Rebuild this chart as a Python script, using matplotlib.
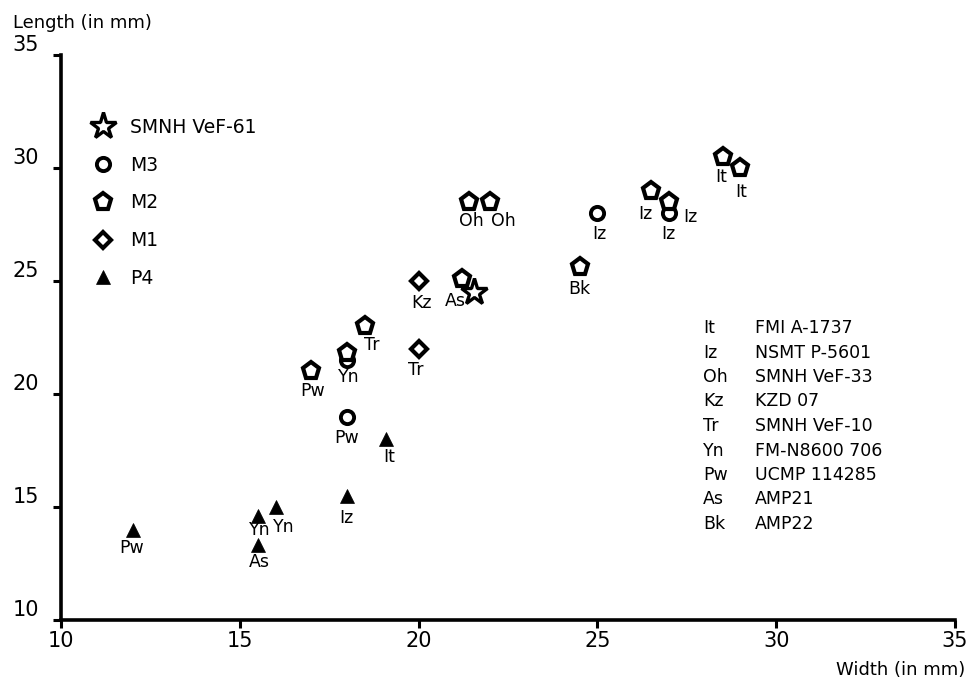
import matplotlib
matplotlib.use('Agg')
import matplotlib.pyplot as plt
from matplotlib.lines import Line2D

plt.rcParams['font.family'] = ['DejaVu Sans']

# M3 (circles)
m3_width = [18.0, 18.0, 25.0, 27.0]
m3_length = [19.0, 21.5, 28.0, 28.0]
m3_labels = ['Pw', '', 'Iz', 'Iz']

# M2 (pentagons)
m2_width = [17.0, 18.0, 18.5, 21.4, 22.0, 21.2, 24.5, 26.5, 27.0, 28.5, 29.0]
m2_length = [21.0, 21.8, 23.0, 28.5, 28.5, 25.1, 25.6, 29.0, 28.5, 30.5, 30.0]
m2_labels = ['Pw', 'Yn', 'Tr', 'Oh', 'Oh', 'As', 'Bk', 'Iz', 'Iz', 'It', 'It']

# M1 (diamonds)
m1_width = [20.0, 20.0]
m1_length = [25.0, 22.0]
m1_labels = ['Kz', 'Tr']

# P4 (triangles)
p4_width = [12.0, 15.5, 16.0, 15.5, 18.0, 19.1]
p4_length = [14.0, 14.6, 15.0, 13.3, 15.5, 18.0]
p4_labels = ['Pw', 'Yn', 'Yn', 'As', 'Iz', 'It']

# SMNH VeF-61 (star)
star_width = [21.55]
star_length = [24.5]

key_abbr = ['It', 'Iz', 'Oh', 'Kz', 'Tr', 'Yn', 'Pw', 'As', 'Bk']
key_names = ['FMI A-1737', 'NSMT P-5601', 'SMNH VeF-33', 'KZD 07',
             'SMNH VeF-10', 'FM-N8600 706', 'UCMP 114285', 'AMP21', 'AMP22']

# label offsets in pixels (dx, dy) from each marker
m3_offsets = [(0, -21), (0, 0), (2, -21), (-1, -21)]
m2_offsets = [(1, -20), (2, -24), (7, -19), (3, -19), (13, -19), (-6, -22),
              (0, -22), (-6, -23), (21, -15), (-1, -20), (1, -24)]
m1_offsets = [(3, -22), (-3, -21)]
p4_offsets = [(-1, -18), (2, -14), (8, -20), (2, -17), (-1, -22), (3, -18)]

fig = plt.figure(figsize=(9.71, 6.83), dpi=100)
ax = fig.add_axes([61 / 971, 1 - 620 / 683, 894 / 971, 565 / 683])

ax.plot(m3_width, m3_length, linestyle='none', marker='o', ms=9.5,
        mfc='white', mec='black', mew=2.8, zorder=3)
ax.plot(m2_width, m2_length, linestyle='none', marker='p', ms=12.5,
        mfc='white', mec='black', mew=3.0, zorder=4)
ax.plot(m1_width, m1_length, linestyle='none', marker='D', ms=8,
        mfc='white', mec='black', mew=3.0, zorder=3)
ax.plot(p4_width, p4_length, linestyle='none', marker='^', ms=9.5,
        mfc='black', mec='black', mew=0.5, zorder=3)
ax.plot(star_width, star_length, linestyle='none', marker='*', ms=20,
        mfc='white', mec='black', mew=2.4, zorder=5)

# point labels
for xs, ys, labs, offs in [(m3_width, m3_length, m3_labels, m3_offsets),
                           (m2_width, m2_length, m2_labels, m2_offsets),
                           (m1_width, m1_length, m1_labels, m1_offsets),
                           (p4_width, p4_length, p4_labels, p4_offsets)]:
    for x, y, lab, off in zip(xs, ys, labs, offs):
        if lab:
            ax.annotate(lab, (x, y), xytext=off, textcoords='offset pixels',
                        ha='center', va='center', fontsize=12.5, zorder=6)

# axis limits and ticks
ax.set_xlim(10, 35)
ax.set_ylim(10, 35)
ax.set_xticks([10, 15, 20, 25, 30, 35])
ax.set_yticks([10, 15, 20, 25, 30, 35])
for side in ['top', 'right']:
    ax.spines[side].set_visible(False)
for side in ['left', 'bottom']:
    ax.spines[side].set_linewidth(2.6)
ax.tick_params(axis='both', direction='out', length=6, width=2.2,
               labelsize=15)
ax.tick_params(axis='x', pad=2)
ax.tick_params(axis='y', pad=10)
for lab in ax.get_yticklabels():
    lab.set_va('bottom')

# axis titles
fig.text(13 / 971, 1 - 23 / 683, 'Length (in mm)', ha='left', va='center',
         fontsize=13)
fig.text(965 / 971, 1 - 670 / 683, 'Width (in mm)', ha='right',
         va='center', fontsize=13)

# legend
handles = [
    Line2D([], [], linestyle='none', marker='*', ms=20, mfc='white',
           mec='black', mew=2.4),
    Line2D([], [], linestyle='none', marker='o', ms=9.5, mfc='white',
           mec='black', mew=2.8),
    Line2D([], [], linestyle='none', marker='p', ms=12.5, mfc='white',
           mec='black', mew=3.0),
    Line2D([], [], linestyle='none', marker='D', ms=8, mfc='white',
           mec='black', mew=3.0),
    Line2D([], [], linestyle='none', marker='^', ms=9.5, mfc='black',
           mec='black', mew=0.5),
]
ax.legend(handles, ['SMNH VeF-61', 'M3', 'M2', 'M1', 'P4'],
          loc='upper left', bbox_to_anchor=(88 / 971, 1 - 118 / 683),
          bbox_transform=fig.transFigure, frameon=False, fontsize=13.5,
          borderpad=0, borderaxespad=0, handlelength=1.6,
          handletextpad=0.65, labelspacing=1.0)

# specimen key
for i, (abbr, name) in enumerate(zip(key_abbr, key_names)):
    ypix = 328 + 24.5 * i
    fig.text(703 / 971, 1 - ypix / 683, abbr, ha='left', va='center',
             fontsize=12.5)
    fig.text(755 / 971, 1 - ypix / 683, name, ha='left', va='center',
             fontsize=12.5)

fig.savefig('out.png', dpi=100)
